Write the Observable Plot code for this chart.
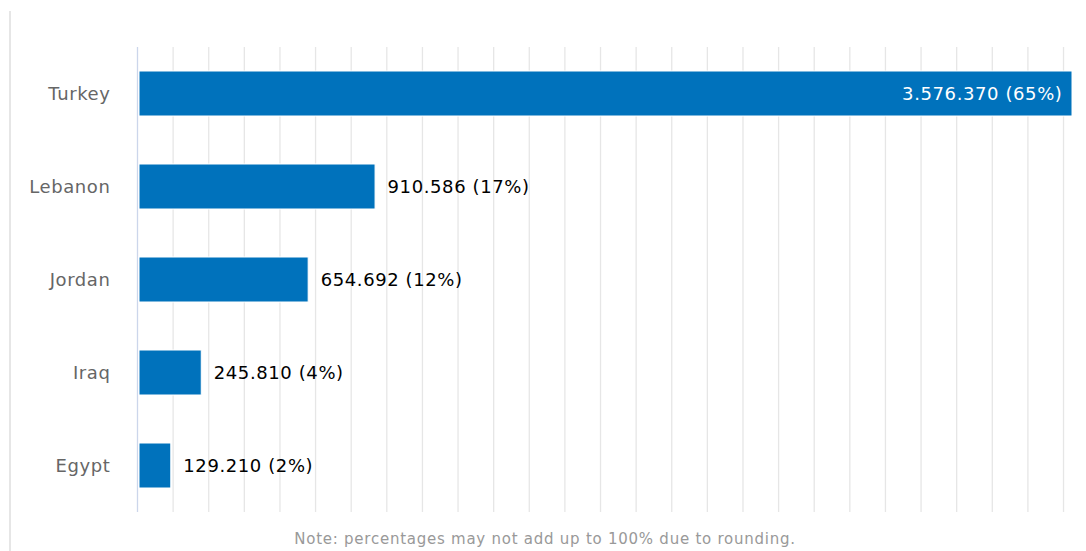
<!DOCTYPE html>
<html>
<head>
<meta charset="utf-8">
<script src="https://cdn.jsdelivr.net/npm/d3@7"></script>
<script src="https://cdn.jsdelivr.net/npm/@observablehq/plot@0.6"></script>
<style>
  html, body { margin: 0; padding: 0; background: #fff; }
  #wrap { position: relative; width: 1086px; height: 551px; overflow: hidden; }
  #border { position: absolute; left: 9px; top: 11px; bottom: 0; width: 0; border-left: 2px solid #e6e6e6; }
  #chart { position: absolute; left: 0; top: 0; }
  #chart svg { font-family: "DejaVu Sans", sans-serif; letter-spacing: 0.6px; }
  #note { position: absolute; left: 0; width: 1090px; top: 529px; text-align: center; font-family: "DejaVu Sans", sans-serif; font-size: 15px; letter-spacing: 0.75px; color: #999999; line-height: 20px; }
</style>
</head>
<body>
<div id="wrap"><div id="border"></div><div id="chart"></div><div id="note"></div></div>
<script>
const countries = ["Turkey", "Lebanon", "Jordan", "Iraq", "Egypt"];
const refugees = [3576370, 910586, 654692, 245810, 129210];
const percents = [65, 17, 12, 4, 2];
const note = "Note: percentages may not add up to 100% due to rounding.";
const gridStep = 136230;
const gridCount = 26;

const locale = d3.formatLocale({decimal: ",", thousands: ".", grouping: [3], currency: ["", ""]});
const fmt = locale.format(",");

const data = countries.map((c, i) => ({
  country: c,
  value: refugees[i],
  label: `${fmt(refugees[i])} (${percents[i]}%)`,
  inside: i === 0
}));
const gridTicks = d3.range(1, gridCount + 1).map(i => i * gridStep);

const plot = Plot.plot({
  width: 1086,
  height: 551,
  marginLeft: 137,
  marginRight: 14,
  marginTop: 47,
  marginBottom: 39,
  style: {fontFamily: "DejaVu Sans, sans-serif", background: "transparent"},
  x: {domain: [0, d3.max(refugees)], axis: null},
  y: {domain: countries, paddingInner: 0.52, paddingOuter: 0.26, label: null},
  marks: [
    Plot.ruleX(gridTicks, {stroke: "#e6e6e6", strokeWidth: 1.3}),
    Plot.ruleX([0], {stroke: "#ccd6eb", strokeWidth: 1.3}),
    Plot.barX(data, {x: "value", y: "country", fill: "#0072bc", stroke: "#ffffff", strokeWidth: 1, insetLeft: 2}),
    Plot.axisY({tickSize: 0, tickPadding: 27, fontSize: 18, fill: "#666666", label: null}),
    Plot.text(data.filter(d => !d.inside), {x: "value", y: "country", text: "label", textAnchor: "start", dx: 12, fontSize: 18, fill: "#000000"}),
    Plot.text(data.filter(d => d.inside), {x: "value", y: "country", text: "label", textAnchor: "end", dx: -10, fontSize: 18, fill: "#ffffff"})
  ]
});
document.getElementById("chart").appendChild(plot);
document.getElementById("note").textContent = note;
</script>
</body>
</html>
